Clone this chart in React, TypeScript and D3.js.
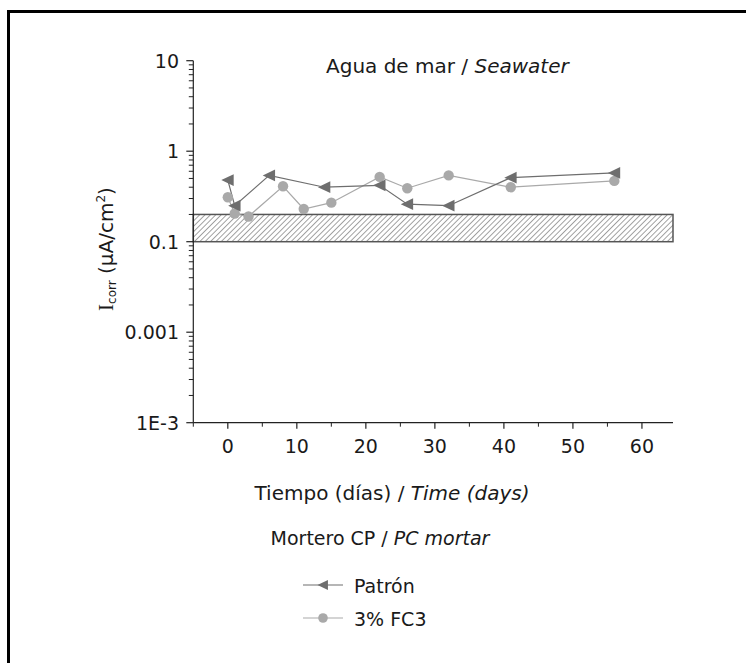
import React from "react";
import * as d3 from "d3";

const patronDays = [0, 1, 6, 14, 22, 26, 32, 41, 56];
const patronValues = [0.48, 0.25, 0.54, 0.4, 0.42, 0.26, 0.25, 0.51, 0.575];
const fc3Days = [0, 1, 3, 8, 11, 15, 22, 26, 32, 41, 56];
const fc3Values = [0.31, 0.205, 0.19, 0.41, 0.23, 0.27, 0.52, 0.39, 0.54, 0.4, 0.47];
const xTicks = [0, 10, 20, 30, 40, 50, 60];
const xMinorTicks = [-5, 5, 15, 25, 35, 45, 55];
const yTickValues = [10, 1, 0.1, 0.01, 0.001];
const yTickLabels = ["10", "1", "0.1", "0.001", "1E-3"];
const bandRange = [0.1, 0.2];
const seriesNames = ["Patrón", "3% FC3"];

const FONT = "'DejaVu Sans', Verdana, sans-serif";

export default function App() {
  const x = d3.scaleLinear().domain([-5, 64.5]).range([193.3, 673]);
  const y = d3.scaleLog().domain([0.001, 10]).range([422.7, 60.7]);
  const line = d3
    .line<[number, number]>()
    .x((d) => x(d[0]))
    .y((d) => y(d[1]));
  const patron: [number, number][] = patronDays.map((d, i) => [d, patronValues[i]]);
  const fc3: [number, number][] = fc3Days.map((d, i) => [d, fc3Values[i]]);

  const minorY: number[] = [];
  for (let e = -3; e < 1; e++) {
    for (let m = 2; m <= 9; m++) minorY.push(m * Math.pow(10, e));
  }

  const tri = (cx: number, cy: number, s = 6.5) =>
    `M${cx - s},${cy} L${cx + s * 0.9},${cy - s * 0.9} L${cx + s * 0.9},${cy + s * 0.9} Z`;

  const darkCol = "#6e6e6e";
  const lightCol = "#a9a9a9";
  const axisCol = "#222";
  const textCol = "#1a1a1a";

  return (
    <svg width={746} height={663} style={{ position: "absolute", left: 0, top: 0 }}>
      <defs>
        <pattern id="hatch" patternUnits="userSpaceOnUse" width={3.8} height={3.8} patternTransform="rotate(45)">
          <line x1={0} y1={0} x2={0} y2={3.8} stroke="#333" strokeWidth={0.9} />
        </pattern>
      </defs>
      <rect x={0} y={0} width={746} height={663} fill="#fff" />
      {/* outer frame */}
      <path d="M8.5,700 L8.5,11.5 L760,11.5" fill="none" stroke="#000" strokeWidth={3} />

      {/* band */}
      <rect
        x={x(-5)}
        y={y(bandRange[1])}
        width={x(64.5) - x(-5)}
        height={y(bandRange[0]) - y(bandRange[1])}
        fill="url(#hatch)"
        stroke="#555"
        strokeWidth={1.5}
      />

      {/* axes */}
      <line x1={x(-5)} y1={y(10)} x2={x(-5)} y2={y(0.001)} stroke={axisCol} strokeWidth={1.2} />
      <line x1={x(-5)} y1={y(0.001)} x2={x(64.5)} y2={y(0.001)} stroke={axisCol} strokeWidth={1.2} />
      {yTickValues.map((v, i) => (
        <g key={"yt" + i}>
          <line x1={x(-5) - 7} x2={x(-5)} y1={y(v)} y2={y(v)} stroke={axisCol} strokeWidth={1.2} />
          <text x={179} y={y(v)} dy="0.36em" textAnchor="end" fontFamily={FONT} fontSize={19} fill={textCol}>
            {yTickLabels[i]}
          </text>
        </g>
      ))}
      {minorY.map((v, i) => (
        <line key={"ym" + i} x1={x(-5) - 4.5} x2={x(-5)} y1={y(v)} y2={y(v)} stroke={axisCol} strokeWidth={1} />
      ))}
      {xTicks.map((t) => (
        <g key={"xt" + t}>
          <line x1={x(t)} x2={x(t)} y1={y(0.001)} y2={y(0.001) + 6} stroke={axisCol} strokeWidth={1.2} />
          <text x={x(t)} y={453} textAnchor="middle" fontFamily={FONT} fontSize={19} fill={textCol}>
            {t}
          </text>
        </g>
      ))}
      {xMinorTicks.map((t) => (
        <line key={"xm" + t} x1={x(t)} x2={x(t)} y1={y(0.001)} y2={y(0.001) + 4} stroke={axisCol} strokeWidth={1} />
      ))}

      {/* series */}
      <path d={line(fc3) || ""} fill="none" stroke={lightCol} strokeWidth={1.2} />
      <path d={line(patron) || ""} fill="none" stroke={darkCol} strokeWidth={1.2} />
      {fc3.map((d, i) => (
        <circle key={"c" + i} cx={x(d[0])} cy={y(d[1])} r={5.2} fill={lightCol} />
      ))}
      {patron.map((d, i) => (
        <path key={"t" + i} d={tri(x(d[0]), y(d[1]))} fill={darkCol} />
      ))}

      {/* titles */}
      <text x={326} y={72.5} textAnchor="start" fontFamily={FONT} fontSize={20} fill={textCol}>
        Agua de mar / <tspan fontStyle="italic">Seawater</tspan>
      </text>
      <text x={392} y={500} textAnchor="middle" fontFamily={FONT} fontSize={20} fill={textCol}>
        Tiempo (días) / <tspan fontStyle="italic">Time (days)</tspan>
      </text>
      <text x={380} y={545} textAnchor="middle" fontFamily={FONT} fontSize={19} fill={textCol}>
        Mortero CP / <tspan fontStyle="italic">PC mortar</tspan>
      </text>
      <g transform="translate(113,249) rotate(-90)">
        <text x={0} y={0} textAnchor="middle" fontFamily={FONT} fontSize={20} fill={textCol}>
          <tspan fontFamily="'Liberation Serif', serif" fontSize={21}>I</tspan>
          <tspan fontSize={12} dy={3}>corr</tspan>
          <tspan dy={-3}> (μA/cm</tspan>
          <tspan fontSize={12} dy={-8}>2</tspan>
          <tspan dy={8}>)</tspan>
        </text>
      </g>

      {/* legend */}
      <line x1={303} x2={343} y1={585} y2={585} stroke={darkCol} strokeWidth={1.2} />
      <path d={tri(323, 585, 5.5)} fill={darkCol} />
      <text x={354} y={592.5} fontFamily={FONT} fontSize={19} fill={textCol}>
        {seriesNames[0]}
      </text>
      <line x1={303} x2={343} y1={618} y2={618} stroke={lightCol} strokeWidth={1.2} />
      <circle cx={323} cy={618} r={4.8} fill={lightCol} />
      <text x={354} y={626} fontFamily={FONT} fontSize={19} fill={textCol}>
        {seriesNames[1]}
      </text>
    </svg>
  );
}
